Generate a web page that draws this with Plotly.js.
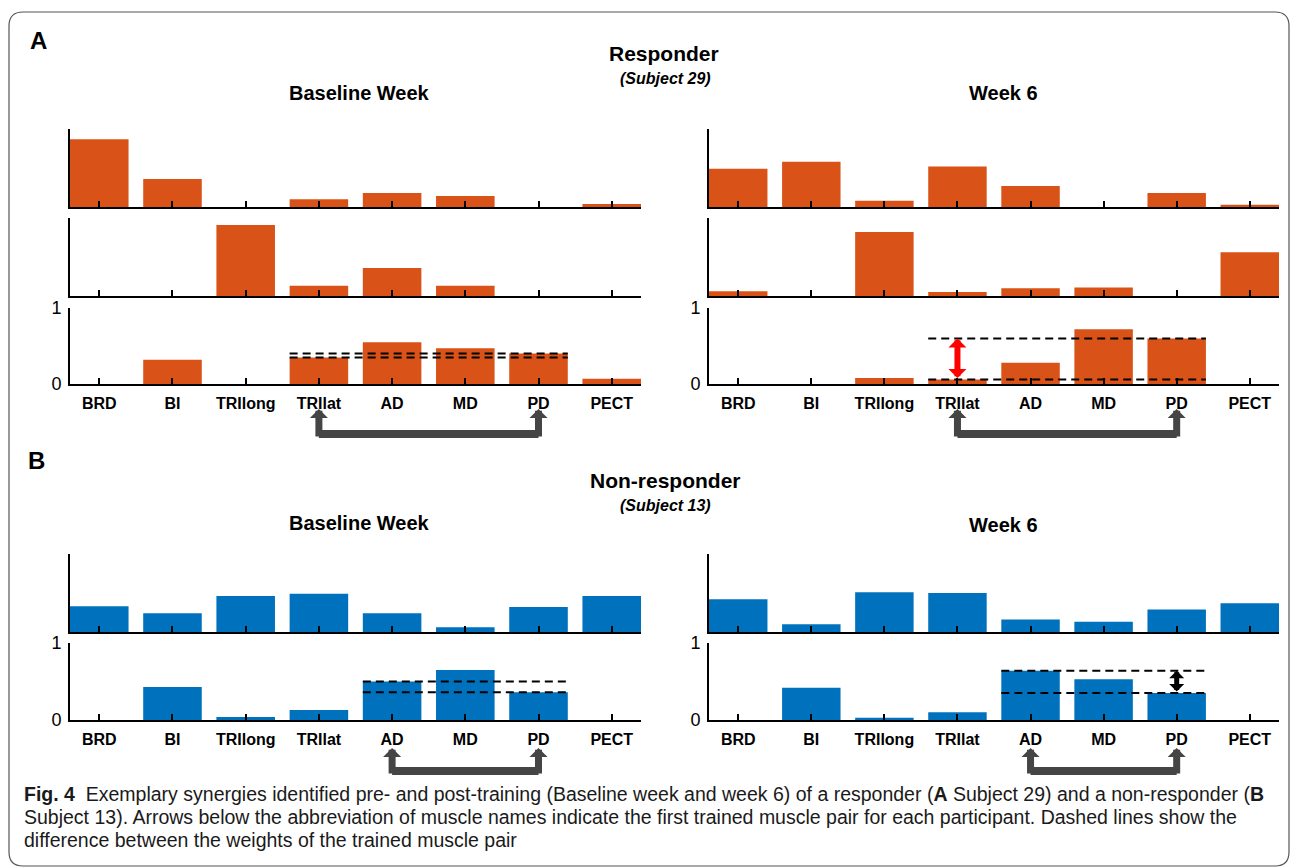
<!DOCTYPE html>
<html><head><meta charset="utf-8">
<script src="https://cdn.plot.ly/plotly-3.0.1.min.js"></script>
<style>html,body{margin:0;padding:0;background:#fff;} #chart{width:1293px;height:868px;}</style>
</head><body><div id="chart"></div>
<script>
// ---------- data ----------
const muscles = ['BRD','BI','TRIlong','TRIlat','AD','MD','PD','PECT'];
// A: Responder (Subject 29)
const respBaseSyn1 = [0.87,0.36,0.00,0.10,0.18,0.14,0.00,0.04];
const respBaseSyn2 = [0.00,0.00,0.91,0.13,0.36,0.13,0.00,0.00];
const respBaseSyn3 = [0.00,0.32,0.00,0.35,0.55,0.47,0.40,0.07];
const respW6Syn1   = [0.49,0.58,0.08,0.52,0.27,0.00,0.18,0.03];
const respW6Syn2   = [0.06,0.00,0.82,0.05,0.10,0.11,0.00,0.56];
const respW6Syn3   = [0.00,0.00,0.08,0.06,0.28,0.72,0.60,0.00];
const respPair = ['TRIlat','PD'];
// B: Non-responder (Subject 13)
const nonBaseSyn1 = [0.33,0.24,0.46,0.49,0.24,0.06,0.32,0.46];
const nonBaseSyn2 = [0.00,0.43,0.04,0.13,0.50,0.65,0.36,0.00];
const nonW6Syn1   = [0.42,0.10,0.51,0.50,0.16,0.13,0.29,0.37];
const nonW6Syn2   = [0.00,0.42,0.03,0.10,0.64,0.53,0.35,0.00];
const nonPair = ['AD','PD'];
const yTickVals = [0,1];

// ---------- layout helpers ----------
const W = 1293, H = 868;
const FONT = 'Liberation Sans, Arial, Helvetica, sans-serif';
const ORANGE = '#D95319', BLUE = '#0072BD', GRAY = '#454545';
const px = x => x / W, py = y => 1 - y / H;
const colsPx = {L:[70,641], R:[709,1279]};
const rowsA = [[129,207],[218,296],[308,384]];
const rowsB = [[554,632],[643,720]];

const panels = [
  {col:'L', row:rowsA[0], vals:respBaseSyn1, color:ORANGE},
  {col:'L', row:rowsA[1], vals:respBaseSyn2, color:ORANGE},
  {col:'L', row:rowsA[2], vals:respBaseSyn3, color:ORANGE, bottom:true, pair:respPair, arrowY:[409,434]},
  {col:'R', row:rowsA[0], vals:respW6Syn1, color:ORANGE},
  {col:'R', row:rowsA[1], vals:respW6Syn2, color:ORANGE},
  {col:'R', row:rowsA[2], vals:respW6Syn3, color:ORANGE, bottom:true, pair:respPair, arrowY:[409,434], diff:'#FF0000'},
  {col:'L', row:rowsB[0], vals:nonBaseSyn1, color:BLUE},
  {col:'L', row:rowsB[1], vals:nonBaseSyn2, color:BLUE, bottom:true, pair:nonPair, arrowY:[748,771]},
  {col:'R', row:rowsB[0], vals:nonW6Syn1, color:BLUE},
  {col:'R', row:rowsB[1], vals:nonW6Syn2, color:BLUE, bottom:true, pair:nonPair, arrowY:[748,771], diff:'#000000'}
];

const data = [];
const layout = {
  width: W, height: H,
  margin: {l:0, r:0, t:0, b:0},
  paper_bgcolor: '#ffffff', plot_bgcolor: 'rgba(0,0,0,0)',
  showlegend: false,
  font: {family: FONT, color: '#000'},
  shapes: [], annotations: []
};

panels.forEach((p, k) => {
  const n = k + 1, sfx = n === 1 ? '' : String(n);
  const cx = colsPx[p.col];
  data.push({
    type: 'bar', x: muscles, y: p.vals,
    xaxis: 'x' + sfx, yaxis: 'y' + sfx,
    marker: {color: p.color, line: {width: 0}},
    hoverinfo: 'skip'
  });
  layout['xaxis' + sfx] = {
    domain: [px(cx[0]), px(cx[1])], anchor: 'y' + sfx,
    type: 'category', categoryorder: 'array', categoryarray: muscles,
    range: [-0.4, 7.4], fixedrange: true,
    showline: true, linecolor: '#000', linewidth: 2,
    ticks: 'inside', ticklen: 6, tickwidth: 2, tickcolor: '#000',
    showticklabels: !!p.bottom, ticklabelstandoff: 4,
    tickfont: {family: FONT, size: 16, color: '#000', weight: 'bold'},
    showgrid: false, zeroline: false
  };
  layout['yaxis' + sfx] = {
    domain: [py(p.row[1]), py(p.row[0])], anchor: 'x' + sfx,
    range: [0, 1], fixedrange: true,
    showline: true, linecolor: '#000', linewidth: 2,
    ticks: p.bottom ? 'inside' : '', ticklen: 6, tickwidth: 2, tickcolor: '#000',
    tickmode: 'array', tickvals: yTickVals,
    showticklabels: !!p.bottom, ticklabelstandoff: 3,
    tickfont: {family: FONT, size: 18, color: '#000'},
    showgrid: false, zeroline: false
  };
  if (p.pair) {
    const i1 = muscles.indexOf(p.pair[0]), i2 = muscles.indexOf(p.pair[1]);
    const v1 = p.vals[i1], v2 = p.vals[i2];
    // dashed lines at the weights of the trained pair
    [v1, v2].forEach(v => layout.shapes.push({
      type: 'line', xref: 'x' + sfx, yref: 'y' + sfx,
      x0: i1 - 0.4, x1: i2 + 0.4, y0: v, y1: v,
      line: {color: '#000', width: 2, dash: '8px,5px'}, layer: 'above'
    }));
    // difference arrow (week 6)
    if (p.diff) {
      const xi = p.diff === '#FF0000' ? i1 : i2;
      layout.annotations.push({
        xref: 'x' + sfx, yref: 'y' + sfx, axref: 'x' + sfx, ayref: 'y' + sfx,
        x: xi, y: Math.max(v1, v2), ax: xi, ay: Math.min(v1, v2),
        text: '', showarrow: true, arrowside: 'end+start',
        arrowhead: 1, arrowsize: 0.5, arrowwidth: p.diff === '#FF0000' ? 6 : 5,
        arrowcolor: p.diff
      });
    }
    // gray arrows under the trained muscle labels
    const [yTip, yBar] = p.arrowY;
    layout.shapes.push({
      type: 'line', xref: 'x' + sfx, yref: 'paper',
      x0: i1, x1: i2, y0: py(yBar), y1: py(yBar),
      line: {color: GRAY, width: 8}
    });
    [i1, i2].forEach(ix => layout.annotations.push({
      xref: 'x' + sfx, yref: 'paper', x: ix, y: py(yTip),
      axref: 'pixel', ayref: 'pixel', ax: 0, ay: (yBar - yTip) + 4,
      text: '', showarrow: true, arrowhead: 1, arrowsize: 0.43, arrowwidth: 7,
      arrowcolor: GRAY
    }));
  }
});

// ---------- texts ----------
function txt(t, x, y, size, opts) {
  layout.annotations.push(Object.assign({
    text: t, xref: 'paper', yref: 'paper', x: px(x), y: py(y),
    xanchor: 'center', yanchor: 'middle', showarrow: false,
    font: {family: FONT, size: size, color: '#000'}
  }, opts || {}));
}
txt('<b>A</b>', 28, 40, 24, {xanchor: 'left'});
txt('<b>Responder</b>', 664, 53, 21);
txt('<b><i>(Subject 29)</i></b>', 665, 78, 16);
txt('<b>Baseline Week</b>', 359, 93, 20);
txt('<b>Week 6</b>', 1003, 93, 20);
txt('<b>B</b>', 26, 460, 24, {xanchor: 'left'});
txt('<b>Non-responder</b>', 665, 480, 21);
txt('<b><i>(Subject 13)</i></b>', 665, 505, 16);
txt('<b>Baseline Week</b>', 359, 523, 20);
txt('<b>Week 6</b>', 1003, 525, 20);

const capLines = [
  '<b>Fig. 4</b>  Exemplary synergies identified pre- and post-training (Baseline week and week 6) of a responder (<b>A</b> Subject 29) and a non-responder (<b>B</b>',
  'Subject 13). Arrows below the abbreviation of muscle names indicate the first trained muscle pair for each participant. Dashed lines show the',
  'difference between the weights of the trained muscle pair'
];
const capY = [794, 817, 840];
capLines.forEach((t, i) => txt(t, 22, capY[i], 19.5, {xanchor: 'left', font: {family: FONT, size: 19.5, color: '#1a1a1a'}}));

// ---------- rounded frame ----------
const bx0 = 9, bx1 = 1289, by0 = 12, by1 = 866, r = 14;
const rx = r / W, ry = r / H;
const X0 = px(bx0), X1 = px(bx1), Y0 = py(by0), Y1 = py(by1);
layout.shapes.push({
  type: 'path', xref: 'paper', yref: 'paper',
  path: `M ${X0 + rx},${Y0} L ${X1 - rx},${Y0} Q ${X1},${Y0} ${X1},${Y0 - ry} L ${X1},${Y1 + ry} Q ${X1},${Y1} ${X1 - rx},${Y1} L ${X0 + rx},${Y1} Q ${X0},${Y1} ${X0},${Y1 + ry} L ${X0},${Y0 - ry} Q ${X0},${Y0} ${X0 + rx},${Y0} Z`,
  line: {color: '#555', width: 1.2}
});

Plotly.newPlot('chart', data, layout, {displayModeBar: false, staticPlot: true});
</script>
</body></html>
